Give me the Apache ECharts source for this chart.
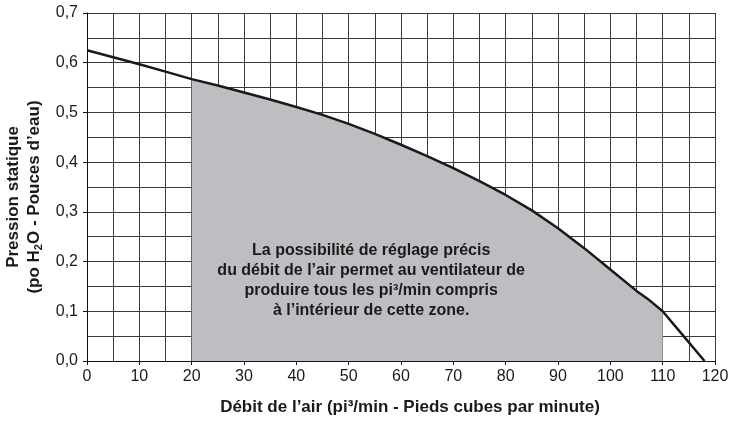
<!DOCTYPE html>
<html>
<head>
<meta charset="utf-8">
<script src="https://cdn.jsdelivr.net/npm/echarts@6/dist/echarts.min.js"></script>
<style>
	html,body{margin:0;padding:0;background:#fff;}
	#chart{width:745px;height:422px;}
</style>
</head>
<body>
<div id="chart"></div>
<script>
//débit (pi3/min) et pression statique (po H2O)
var debit = [0, 5, 10, 15, 20, 25, 30, 35, 40, 45, 50, 55, 60, 65, 70, 75, 80, 85, 90, 95, 100, 105, 107.5, 110, 114, 118];
var pression = [0.625, 0.611, 0.597, 0.582, 0.567, 0.554, 0.540, 0.526, 0.511, 0.495, 0.477, 0.457, 0.435, 0.412, 0.388, 0.362, 0.334, 0.303, 0.267, 0.227, 0.184, 0.141, 0.122, 0.100, 0.050, 0.000];
//zone de réglage
var zoneDebut = 20;
var zoneFin = 110;
var texteZone = [
	"La possibilité de réglage précis",
	"du débit de l’air permet au ventilateur de",
	"produire tous les pi³/min compris",
	"à l’intérieur de cette zone."
];

var courbe = [], zone = [];
for(var i = 0; i < debit.length; i++){
	courbe.push([debit[i], pression[i]]);
	if(debit[i] >= zoneDebut && debit[i] <= zoneFin){
		zone.push([debit[i], pression[i]]);
	}
}

var police = "'Liberation Sans', Arial, sans-serif";
var grille = {show: true, lineStyle: {color: '#3a3a3a', width: 1}};

var myChart = echarts.init(document.getElementById('chart'));
myChart.setOption({
	animation: false,
	textStyle: {fontFamily: police},
	grid: {left: 87, right: 30, top: 13, bottom: 61, outerBoundsMode: 'none', containLabel: false},
	xAxis: {
		type: 'value', min: 0, max: 120, interval: 10,
		name: 'Débit de l’air (pi³/min - Pieds cubes par minute)',
		nameLocation: 'middle', nameGap: 38,
		nameTextStyle: {fontSize: 17, fontWeight: 'bold', color: '#1a1a1a', fontFamily: police, padding: [0, 0, 0, 18]},
		axisLine: {lineStyle: {color: '#111', width: 1}},
		axisTick: {show: true, length: 4, lineStyle: {color: '#111'}},
		axisLabel: {fontSize: 16, color: '#1a1a1a', margin: 8, fontFamily: police},
		splitLine: grille,
		minorTick: {show: false, splitNumber: 2},
		minorSplitLine: grille
	},
	yAxis: {
		type: 'value', min: 0, max: 0.7, interval: 0.1,
		name: '{t|Pression statique}\n{t|(po H}{sub|2}{t|O - Pouces d’eau)}',
		nameLocation: 'middle', nameGap: 36, nameRotate: 90,
		nameTextStyle: {
			fontSize: 17, fontWeight: 'bold', color: '#1a1a1a', fontFamily: police,
			padding: [0, 20, 0, 0],
			rich: {
				t: {fontSize: 17, fontWeight: 'bold', lineHeight: 21, fontFamily: police},
				sub: {fontSize: 11, fontWeight: 'bold', lineHeight: 21, verticalAlign: 'bottom', padding: [7, 0, 0, 0], fontFamily: police}
			}
		},
		axisLine: {show: true, lineStyle: {color: '#111', width: 1}},
		axisTick: {show: true, length: 4, lineStyle: {color: '#111'}},
		axisLabel: {
			fontSize: 16, color: '#1a1a1a', margin: 9, fontFamily: police,
			formatter: function(v){ return v.toFixed(1).replace('.', ','); }
		},
		splitLine: grille,
		minorTick: {show: false, splitNumber: 2},
		minorSplitLine: grille
	},
	series: [
		{
			type: 'line', data: zone, symbol: 'none', silent: true,
			lineStyle: {width: 0},
			areaStyle: {color: '#bdbec1', opacity: 1},
			markPoint: {
				symbolSize: 0, silent: true,
				data: [{coord: [54.3, 0.161]}],
				label: {
					show: true, position: 'inside',
					formatter: texteZone.join('\n'),
					fontSize: 16, fontWeight: 'bold', lineHeight: 20,
					color: '#1a1a1a', fontFamily: police, align: 'center'
				}
			}
		},
		{
			type: 'line', data: courbe, symbol: 'none', silent: true,
			lineStyle: {color: '#1a1a1a', width: 2.5, join: 'round'}
		}
	]
});
</script>
</body>
</html>
